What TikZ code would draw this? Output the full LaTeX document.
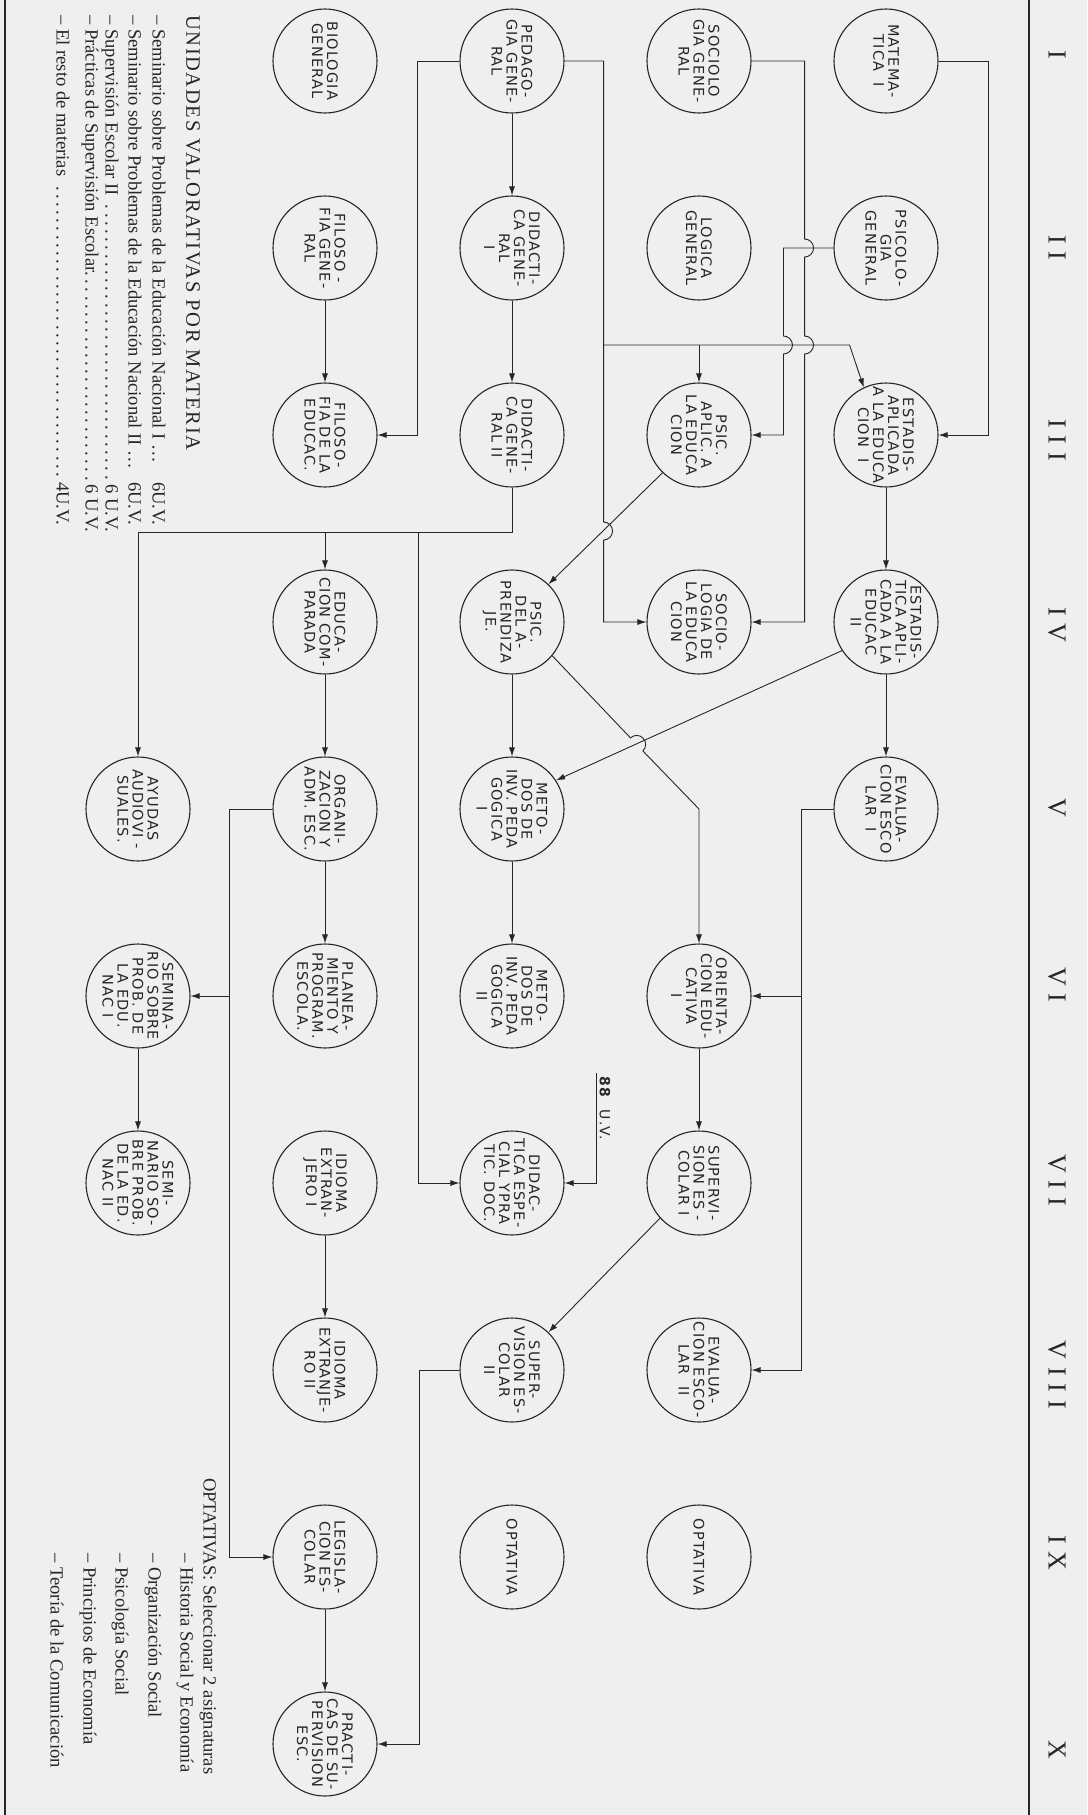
\documentclass[tikz,border=0pt]{standalone}
\usepackage{fontspec}
\setmainfont{Liberation Serif}
\newfontfamily\subjfont[LetterSpace=8]{DejaVu Sans}
\newfontfamily\semfont[LetterSpace=30]{Liberation Serif}
\newfontfamily\titlefont[LetterSpace=8]{Liberation Serif}
\usetikzlibrary{arrows.meta, positioning}

\definecolor{paper}{RGB}{239,239,239}
\definecolor{ink}{RGB}{38,38,38}

\begin{document}
\begin{tikzpicture}[
        x=1pt, y=1pt, rotate=-90, transform shape,
        node distance = 187pt,
        subject/.style={circle, draw=ink, line width=1.1pt, minimum size=104pt, inner sep=-8pt, align=center, text=ink, font=\subjfont\fontsize{14.5}{15}\selectfont},
        semester/.style={text=ink, font=\semfont\fontsize{26}{26}\selectfont},
        legend/.style={anchor=west, inner sep=0pt, text=ink, font=\fontsize{18.6}{20}\selectfont},
        legendtitle/.style={anchor=west, inner sep=0pt, text=ink, font=\titlefont\fontsize{20.5}{22}\selectfont},
        uvlabel/.style={above right, text=ink, font=\subjfont\fontsize{14}{14}\selectfont},
        border/.style={draw=ink, line width=1.3pt},
        arrow/.style={-{Latex[length=9pt, width=6pt]}, draw=ink, line width=0.9pt}
    ]
        \useasboundingbox (0,0) rectangle (1815,1087);
        \fill[paper] (0,0) rectangle (1815,1087);
        \draw[border] (0,1029) -- (1815,1029);
        \draw[border] (0,5) -- (1815,5);

        % semesters
        \foreach \u/\sem [count=\i] in {55/I, 248/II, 440/III, 625/IV, 808/V, 985/VI, 1180/VII, 1375/VIII, 1553/IX, 1750/X}
            \node[semester] (sem\i) at (\u,1057) {\sem};

        % first row
        \node[subject] (mat) at (61,886) {MATEMA-\\TICA\ \ I};
        \node[subject, right of=mat] (psg) {PSICOLO-\\GIA\\GENERAL};
        \node[subject, right of=psg] (est1) {ESTADIS-\\APLICADA\\A LA EDUCA\\CION\ \ I};
        \node[subject, right of=est1] (est2) {ESTADIS-\\TICA APLI-\\CADA A LA\\EDUCAC\\II};
        \node[subject, right of=est2] (eva1) {EVALUA-\\CION ESCO\\LAR\ \ I};

        % second row
        \node[subject, below of=mat] (soc) {SOCIOLO\\GIA GENE-\\RAL};
        \node[subject, right of=soc] (logi) {LOGICA\\GENERAL};
        \node[subject, right of=logi] (psa) {PSIC.\\APLIC. A\\LA EDUCA\\CION};
        \node[subject, right of=psa] (soe) {SOCIO-\\LOGIA DE\\LA EDUCA\\CION};
        \node[subject, right of=soe, xshift=187pt] (ori) {ORIENTA-\\CION EDU-\\CATIVA\\I};
        \node[subject, right of=ori] (sup1) {SUPERVI-\\SION ES -\\COLAR I};
        \node[subject, right of=sup1] (eva2) {EVALUA-\\CION ESCO-\\LAR\ \ II};
        \node[subject, right of=eva2] (optb) {OPTATIVA};

        % third row
        \node[subject, below of=soc] (ped) {PEDAGO-\\GIA GENE-\\RAL};
        \node[subject, right of=ped] (dg1) {DIDACTI-\\CA GENE-\\RAL\\I};
        \node[subject, right of=dg1] (dg2) {DIDACTI-\\CA GENE-\\RAL II};
        \node[subject, right of=dg2] (pap) {PSIC.\\DEL A-\\PRENDIZA\\JE.};
        \node[subject, right of=pap] (mi1) {METO-\\DOS DE\\INV. PEDA\\GOGICA\\I};
        \node[subject, right of=mi1] (mi2) {METO-\\DOS DE\\INV. PEDA\\GOGICA\\II};
        \node[subject, right of=mi2] (dce) {DIDAC-\\TICA ESPE-\\CIAL YPRA\\TIC. DOC.};
        \node[subject, right of=dce] (sup2) {SUPER-\\VISION ES-\\COLAR\\II};
        \node[subject, right of=sup2] (optc) {OPTATIVA};

        % fourth row
        \node[subject, below of=ped] (bio) {BIOLOGIA\\GENERAL};
        \node[subject, right of=bio] (fig) {FILOSO -\\FIA GENE-\\RAL};
        \node[subject, right of=fig] (fie) {FILOSO-\\FIA DE LA\\EDUCAC.};
        \node[subject, right of=fie] (ecp) {EDUCA-\\CION COM-\\PARADA};
        \node[subject, right of=ecp] (org) {ORGANI-\\ZACION Y\\ADM. ESC.};
        \node[subject, right of=org] (pla) {PLANEA-\\MIENTO Y\\PROGRAM.\\ESCOLA.};
        \node[subject, right of=pla] (id1) {IDIOMA\\EXTRAN-\\JERO I};
        \node[subject, right of=id1] (id2) {IDIOMA\\EXTRANJE-\\RO II};
        \node[subject, right of=id2] (leg) {LEGISLA-\\CION ES-\\COLAR};
        \node[subject, right of=leg] (prs) {PRACTI-\\CAS DE SU-\\PERVISION\\ESC.};

        % fifth row
        \node[subject, below of=org] (ayu) {AYUDAS\\AUDIOVI -\\SUALES.};
        \node[subject, right of=ayu] (sem1) {SEMINA-\\RIO SOBRE\\PROB. DE\\LA EDU.\\NAC I};
        \node[subject, right of=sem1] (sem2) {SEMI-\\NARIO SO-\\BRE PROB.\\DE LA ED.\\NAC II};

        % legends
        \node[legendtitle] (unid) at (15,193) {UNIDADES VALORATIVAS POR MATERIA};
        \node[legend] (uva) at (15,159) {\makebox[510pt][s]{-- Seminario sobre Problemas de la Educación Nacional I \dots\hfill 6U.V.}};
        \node[legend] (uvb) at (15,135) {\makebox[510pt][s]{-- Seminario sobre Problemas de la Educación Nacional II \dots\hfill 6U.V.}};
        \node[legend] (uvc) at (15,110) {\makebox[517pt][s]{-- Supervisión Escolar II \dotfill 6 U.V.}};
        \node[legend] (uvd) at (15,90) {\makebox[517pt][s]{-- Prácticas de Supervisión Escolar.\dotfill 6 U.V.}};
        \node[legend] (uve) at (15,63) {\makebox[510pt][s]{-- El resto de materias \dotfill 4U.V.}};

        \node[legend] (opt0) at (1478,208) {OPTATIVAS: Seleccionar 2 asignaturas};
        \node[legend] (opt1) at (1553,185) {-- Historia Social y Economía};
        \node[legend] (opt2) at (1553,153) {-- Organización Social};
        \node[legend] (opt3) at (1553,120) {-- Psicología Social};
        \node[legend] (opt4) at (1553,88) {-- Principios de Economía};
        \node[legend] (opt5) at (1553,57) {-- Teoría de la Comunicación};

        % connectors
        \draw[arrow] (mat.north) -- ++(0,50) -| (est1.north);
        \draw[arrow] (soc.north) -- ++(0,53) -- ++(178,0) arc[start angle=180, end angle=0, radius=9] -- ++(79,0) arc[start angle=180, end angle=0, radius=9] -| (soe.north);
        \draw[arrow] (psg.south) -- ++(0,-50) -- ++(88,0) arc[start angle=180, end angle=0, radius=9] -| (psa.north);
        \draw[arrow] (ped.north) -- ++(0,39) -- ++(461,0) arc[start angle=180, end angle=0, radius=9] -| (soe.south);
        \path (ped.north) ++(284,39) coordinate (pedj);
        \draw[arrow] (pedj) -- ++(0,246) -- (est1.205);
        \draw[arrow] (pedj |- psa.west) -- (psa.west);
        \draw[arrow] (ped.south) -- ++(0,-42) -| (fie.north);
        \draw[arrow] (ped) -- (dg1);
        \draw[arrow] (dg1) -- (dg2);
        \draw[arrow] (fig) -- (fie);
        \path (dg2.east) ++(45,0) coordinate (dgj);
        \draw[arrow] (dg2.east) -- (dgj) |- (ayu.west);
        \draw[arrow] (dgj) |- (ecp.west);
        \draw[arrow] (dgj) ++(0,-94) -| (dce.south);
        \draw[arrow] (est1) -- (est2);
        \draw[arrow] (est2) -- (eva1);
        \draw[arrow] (est2.-57) -- (mi1.123);
        \draw[arrow] (psa.-44) -- (pap.136);
        \draw[arrow] (pap) -- (mi1);
        \draw[arrow] (mi1) -- (mi2);
        \draw[arrow] (pap.50) -- ++(82.1,78.2) arc[start angle=223.6, end angle=43.6, radius=9] -- (ori.west -| eva1) -- (ori.west);
        \path (eva1.south) ++(0,-32) coordinate (evaj);
        \draw[arrow] (eva1.south) -- (evaj) -| (eva2.north);
        \draw[arrow] (evaj -| ori) -- (ori.north);
        \draw[arrow] (ori) -- (sup1);
        \draw[arrow] (sup1.-48) -- (sup2.136);
        \draw[arrow] (sup2.south) -- ++(0,-40) -| (prs.north);
        \draw[arrow] (ecp) -- (org);
        \draw[arrow] (org) -- (pla);
        \path (org.south) ++(0,-43) coordinate (orgj);
        \draw[arrow] (org.south) -- (orgj) -| (leg.south);
        \draw[arrow] (orgj -| sem1) -- (sem1.north);
        \draw[arrow] (sem1) -- (sem2);
        \draw[arrow] (id1) -- (id2);
        \draw[arrow] (leg) -- (prs);
        \coordinate (uv) at (1073,596);
        \draw[arrow] (uv) node[uvlabel] (uvtext) {\textbf{88}\ \ U.V.} -| (dce.north);
    \end{tikzpicture}
\end{document}
